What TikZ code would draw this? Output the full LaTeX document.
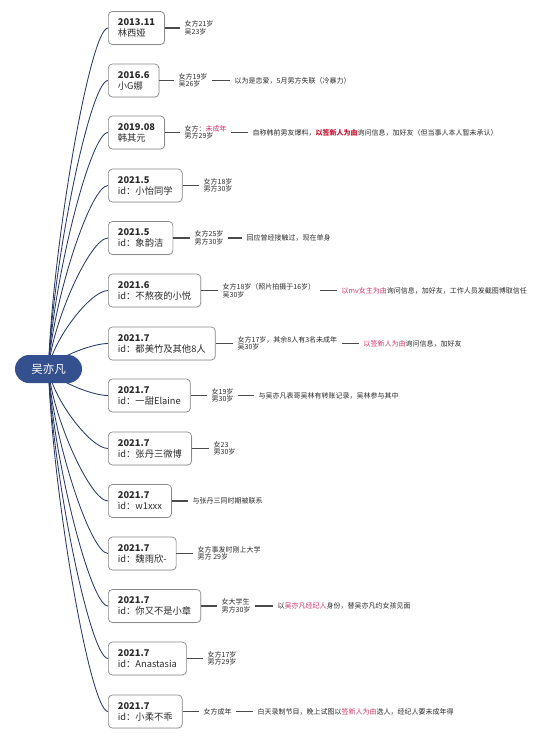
\documentclass[tikz,border=0pt]{standalone}
\usepackage{fontspec}
\setmainfont{Noto Sans CJK SC}
\usetikzlibrary{calc,backgrounds,shadows}
\definecolor{rootblue}{HTML}{34508F}
\definecolor{branchcol}{HTML}{2A3A66}
\definecolor{boxline}{HTML}{8A8A8A}
\definecolor{pinkred}{HTML}{D0336E}
\definecolor{strongred}{HTML}{C8102E}
\definecolor{txt}{HTML}{2B2B2B}
\begin{document}
\begin{tikzpicture}[x=1pt,y=-1pt,
 rootnode/.style={fill=rootblue, text=white, rounded corners=14pt, minimum width=67pt, minimum height=28pt, font=\fontsize{11.5}{12}\selectfont, inner sep=0pt},
 entry/.style={draw=boxline, line width=0.7pt, fill=white, rounded corners=4pt, minimum height=33pt, inner xsep=9.5pt, inner ysep=0pt, align=left, anchor=west, font=\fontsize{9.3}{11}\selectfont, text=txt, drop shadow={opacity=0.12, shadow xshift=0.8pt, shadow yshift=-0.8pt}},
 note/.style={anchor=west, inner xsep=4.5pt, inner ysep=0pt, align=left, font=\fontsize{7}{7.6}\selectfont, text=txt},
 branch/.style={draw=branchcol, line width=0.85pt},
 link/.style={draw=txt!85, line width=1.1pt},
]
\useasboundingbox (0,0) rectangle (550,742);
\node[rootnode] (root) at (48.5,369) {吴亦凡};

\node[entry] (b1) at (108,28) {\textbf{2013.11}\\林西娅};
\node[entry] (b2) at (108,80.5) {\textbf{2016.6}\\小G娜};
\node[entry] (b3) at (108,132.5) {\textbf{2019.08}\\韩其元};
\node[entry] (b4) at (108,185.5) {\textbf{2021.5}\\id：小怡同学};
\node[entry] (b5) at (108,238) {\textbf{2021.5}\\id：象韵洁};
\node[entry] (b6) at (108,290.5) {\textbf{2021.6}\\id：不熬夜的小悦};
\node[entry] (b7) at (108,343.5) {\textbf{2021.7}\\id：都美竹及其他8人};
\node[entry] (b8) at (108,395.5) {\textbf{2021.7}\\id：一甜Elaine};
\node[entry] (b9) at (108,448.5) {\textbf{2021.7}\\id：张丹三微博};
\node[entry] (b10) at (108,501) {\textbf{2021.7}\\id：w1xxx};
\node[entry] (b11) at (108,553.5) {\textbf{2021.7}\\id：魏雨欣-};
\node[entry] (b12) at (108,606) {\textbf{2021.7}\\id：你又不是小章};
\node[entry] (b13) at (108,658.5) {\textbf{2021.7}\\id：Anastasia};
\node[entry] (b14) at (108,711.5) {\textbf{2021.7}\\id：小柔不乖};

\node[note] (t1) at (180,28) {女方21岁\\吴23岁};
\node[note] (t2) at (174,80.5) {女方19岁\\吴26岁};
\node[note] (t3) at (180,132.5) {女方：\textcolor{pinkred}{未成年}\\男方29岁};
\node[note] (t4) at (199,185.5) {女方18岁\\男方30岁};
\node[note] (t5) at (190,238) {女方25岁\\男方30岁};
\node[note] (t6) at (218,290.5) {女方18岁（照片拍摄于16岁）\\吴30岁};
\node[note] (t7) at (233,343.5) {女方17岁，其余8人有3名未成年\\吴30岁};
\node[note] (t8) at (207,395.5) {女19岁\\男30岁};
\node[note] (t9) at (209,448.5) {女23\\男30岁};
\node[note] (t10) at (188,501) {与张丹三同时期被联系};
\node[note] (t11) at (193,553.5) {女方事发时刚上大学\\男方 29岁};
\node[note] (t12) at (217,606) {女大学生\\男方30岁};
\node[note] (t13) at (203,658.5) {女方17岁\\男方29岁};
\node[note] (t14) at (199,711.5) {女方成年};

\node[note] (d2) at (230,80.5) {以为是恋爱，5月男方失联（冷暴力）};
\node[note] (d3) at (248,132.5) {自称韩前男友爆料，\textbf{\textcolor{strongred}{以签新人为由}}询问信息，加好友（但当事人本人暂未承认）};
\node[note] (d5) at (242,238) {回应曾经接触过，现在单身};
\node[note] (d6) at (337,290.5) {\textcolor{pinkred}{以mv女主为由}询问信息，加好友，工作人员发截图博取信任};
\node[note] (d7) at (359,343.5) {\textcolor{pinkred}{以签新人为由}询问信息，加好友};
\node[note] (d8) at (254,395.5) {与吴亦凡表哥吴林有转账记录，吴林参与其中};
\node[note] (d12) at (273,606) {以\textcolor{pinkred}{吴亦凡经纪人}身份，替吴亦凡约女孩见面};
\node[note] (d14) at (253,711.5) {白天录制节目，晚上试图以\textcolor{pinkred}{签新人为由}选人，经纪人要未成年得};

\foreach \i in {1,...,14}{
  \draw[link] (b\i.east) -- (t\i.west);
}
\foreach \i in {2,3,5,6,7,8,12,14}{
  \draw[link] (t\i.east) -- (d\i.west);
}

\begin{pgfonlayer}{background}
\fill[white] (0,0) rectangle (550,742);
\foreach \i in {1,...,14}{
  \draw[branch] (root.center) .. controls ($(root.center)!0.35!(root.center |- b\i.west)+(3.5,0)$) and ($(b\i.west)+(-18,0)$) .. (b\i.west);
}
\end{pgfonlayer}
\end{tikzpicture}
\end{document}
